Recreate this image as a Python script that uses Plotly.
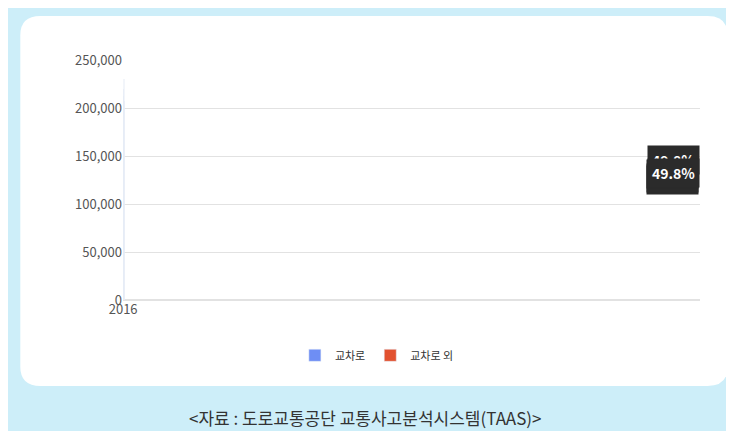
import plotly.graph_objects as go

years = ["2016", "2017", "2018", "2019", "2020"]
intersection = [98500, 101500, 105500, 120000, 106000]
other = [121500, 111000, 106500, 110000, 101500]
share_labels = ["44.9%", "47.3%", "48.7%", "49.8%", "49.8%"]

blue = "#6e8ef4"
red = "#e2512f"
font = "Noto Sans CJK KR"

fig = go.Figure()
fig.add_trace(go.Bar(x=years, y=intersection, name="교차로", marker_color=blue, width=0.31))
fig.add_trace(go.Bar(x=years, y=other, name="교차로 외", marker_color=red, width=0.31))

for yr, v, lab in zip(years, intersection, share_labels):
    fig.add_annotation(x=yr, y=v + 26000, text="<b>" + lab + "</b>", showarrow=False,
                       font=dict(color="white", size=14, family=font),
                       bgcolor="#2b2b2b", borderpad=4)

# white card (rounded) behind the plot
L, R, T, B, rx, ry = -0.178, 1.048, 1.183, -0.358, 0.035, 0.08
fig.add_shape(type="path", xref="paper", yref="paper", layer="below",
              path=f"M {L},{B+ry} L {L},{T-ry} Q {L},{T} {L+rx},{T} L {R-rx},{T} Q {R},{T} {R},{T-ry} "
                   f"L {R},{B+ry} Q {R},{B} {R-rx},{B} L {L+rx},{B} Q {L},{B} {L},{B+ry} Z",
              fillcolor="white", line_width=0)
fig.add_annotation(xref="paper", yref="paper", x=0.42, y=-0.49, yanchor="middle", showarrow=False,
                   text="<자료 : 도로교통공단 교통사고분석시스템(TAAS)>",
                   font=dict(size=17, color="#333", family=font))

fig.update_layout(
    barmode="stack", width=734, height=431,
    margin=dict(l=115, r=42, t=52, b=139),
    paper_bgcolor="#cdeef9", plot_bgcolor="white",
    font=dict(family=font, color="#555", size=13),
    legend=dict(orientation="h", x=0.44, xanchor="center", y=-0.17, yanchor="top",
                font=dict(size=11, color="#333"), traceorder="normal",
                bgcolor="rgba(0,0,0,0)"),
    yaxis=dict(range=[0, 250000], tickformat=",", dtick=50000, gridcolor="#e2e2e2",
               zeroline=True, zerolinecolor="#e2e2e2", ticks="", tickfont=dict(color="#555")),
    xaxis=dict(type="category", ticks="", tickfont=dict(color="#555")),
    showlegend=True,
)
fig.write_html("out.html")
